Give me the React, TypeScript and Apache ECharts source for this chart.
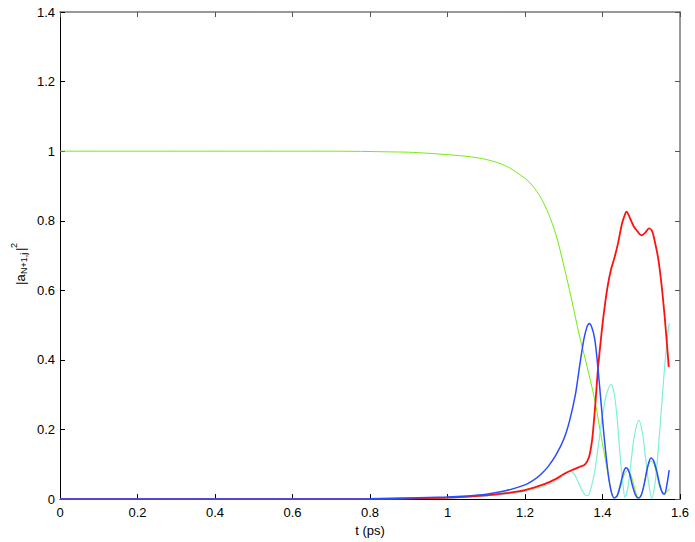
import React, { useEffect, useRef } from "react";
import * as echarts from "echarts";

const xTicks = [0, 0.2, 0.4, 0.6, 0.8, 1, 1.2, 1.4, 1.6];
const yTicks = [0, 0.2, 0.4, 0.6, 0.8, 1, 1.2, 1.4];

const greenT = [0, 0.2, 0.4, 0.6, 0.7, 0.8, 0.85, 0.9, 0.95, 1.0, 1.05, 1.1, 1.15, 1.2, 1.22, 1.24, 1.26, 1.28, 1.3, 1.32, 1.34, 1.36, 1.38, 1.395, 1.411, 1.42, 1.428, 1.436, 1.445, 1.455, 1.465, 1.473, 1.482, 1.49, 1.496, 1.505, 1.515, 1.525, 1.533, 1.542, 1.55, 1.558, 1.565, 1.573];
const greenV = [1, 1, 1, 1, 1, 0.999, 0.998, 0.997, 0.994, 0.99, 0.985, 0.976, 0.958, 0.922, 0.9, 0.868, 0.822, 0.76, 0.672, 0.575, 0.472, 0.382, 0.285, 0.19, 0.091, 0.035, 0.005, 0.006, 0.03, 0.068, 0.083, 0.07, 0.035, 0.006, 0.004, 0.03, 0.085, 0.11, 0.1, 0.06, 0.028, 0.018, 0.02, 0.03];

const cyanT = [0, 0.4, 0.8, 0.9, 1.0, 1.1, 1.15, 1.2, 1.25, 1.28, 1.3, 1.315, 1.325, 1.335, 1.345, 1.355, 1.362, 1.37, 1.38, 1.39, 1.4, 1.41, 1.422, 1.43, 1.438, 1.445, 1.452, 1.458, 1.465, 1.473, 1.482, 1.494, 1.503, 1.512, 1.52, 1.527, 1.535, 1.543, 1.552, 1.562, 1.572];
const cyanV = [0, 0, 0.0005, 0.0015, 0.003, 0.009, 0.014, 0.022, 0.038, 0.052, 0.068, 0.08, 0.075, 0.055, 0.03, 0.012, 0.01, 0.03, 0.08, 0.16, 0.24, 0.3, 0.33, 0.305, 0.23, 0.13, 0.05, 0.005, 0.03, 0.1, 0.18, 0.226, 0.19, 0.11, 0.04, 0.002, 0.04, 0.13, 0.26, 0.4, 0.506];

const redT = [0, 0.4, 0.8, 0.9, 1.0, 1.1, 1.15, 1.2, 1.25, 1.28, 1.3, 1.32, 1.34, 1.355, 1.365, 1.372, 1.376, 1.382, 1.388, 1.395, 1.403, 1.413, 1.422, 1.43, 1.44, 1.45, 1.457, 1.462, 1.47, 1.48, 1.49, 1.5, 1.51, 1.52, 1.528, 1.536, 1.544, 1.552, 1.56, 1.566, 1.571];
const redV = [0, 0, 0.0006, 0.002, 0.004, 0.011, 0.017, 0.026, 0.043, 0.058, 0.072, 0.083, 0.092, 0.1, 0.12, 0.16, 0.2, 0.28, 0.37, 0.45, 0.53, 0.61, 0.66, 0.69, 0.735, 0.79, 0.815, 0.826, 0.81, 0.785, 0.77, 0.758, 0.765, 0.778, 0.77, 0.735, 0.69, 0.62, 0.53, 0.45, 0.38];

const blueT = [0, 0.4, 0.6, 0.8, 0.9, 1.0, 1.05, 1.1, 1.15, 1.2, 1.22, 1.24, 1.26, 1.28, 1.3, 1.315, 1.33, 1.342, 1.352, 1.36, 1.366, 1.372, 1.38, 1.388, 1.396, 1.405, 1.415, 1.423, 1.43, 1.438, 1.447, 1.455, 1.461, 1.468, 1.477, 1.485, 1.492, 1.5, 1.508, 1.517, 1.525, 1.532, 1.54, 1.548, 1.555, 1.56, 1.566, 1.572];
const blueV = [0, 0, 0.0003, 0.001, 0.003, 0.006, 0.009, 0.014, 0.024, 0.041, 0.053, 0.07, 0.094, 0.127, 0.172, 0.225, 0.3, 0.39, 0.46, 0.495, 0.505, 0.495, 0.46, 0.38, 0.28, 0.17, 0.07, 0.02, 0.003, 0.01, 0.045, 0.08, 0.09, 0.08, 0.04, 0.012, 0.003, 0.012, 0.045, 0.095, 0.118, 0.11, 0.08, 0.04, 0.017, 0.014, 0.04, 0.083];

const pairs = (t: number[], v: number[]) => t.map((x, i) => [x, v[i]]);

const FONT = "'Liberation Sans', Arial, Helvetica, sans-serif";

export default function App() {
  const ref = useRef<HTMLDivElement>(null);
  useEffect(() => {
    if (!ref.current) return;
    const chart = echarts.init(ref.current, null, { renderer: "svg" });
    const mkSeries = (name: string, t: number[], v: number[], color: string, width: number) => ({
      name,
      type: "line",
      data: pairs(t, v),
      showSymbol: false,
      smooth: 0.3,
      lineStyle: { color, width },
      itemStyle: { color },
      clip: true,
    });
    const axisCommon = {
      type: "value",
      splitLine: { show: false },
    };
    chart.setOption({
      animation: false,
      backgroundColor: "#fff",
      textStyle: { fontFamily: FONT },
      grid: { left: 60, right: 15, top: 12, bottom: 40, containLabel: false },
      xAxis: [
        {
          ...axisCommon,
          position: "bottom",
          min: 0,
          max: 1.6,
          interval: 0.2,
          name: "t (ps)",
          nameLocation: "middle",
          nameGap: 23,
          nameTextStyle: { color: "#000", fontSize: 13, fontFamily: FONT },
          axisLine: { show: true, onZero: false, lineStyle: { color: "#000", width: 1 } },
          axisTick: { show: true, inside: true, length: 5, lineStyle: { color: "#000" } },
          axisLabel: {
            color: "#000",
            fontSize: 13,
            fontFamily: FONT,
            margin: 7,
            formatter: (v: number) => {
              const m = xTicks.find((x) => Math.abs(x - v) < 1e-6);
              return m === undefined ? "" : String(m);
            },
          },
        },
        {
          ...axisCommon,
          position: "top",
          min: 0,
          max: 1.6,
          interval: 0.2,
          axisLine: { show: true, onZero: false, lineStyle: { color: "#777", width: 1.5 } },
          axisTick: { show: true, inside: true, length: 5, lineStyle: { color: "#555" } },
          axisLabel: { show: false },
        },
      ],
      yAxis: [
        {
          ...axisCommon,
          position: "left",
          min: 0,
          max: 1.4,
          interval: 0.2,
          axisLine: { show: true, onZero: false, lineStyle: { color: "#000", width: 1 } },
          axisTick: { show: true, inside: true, length: 5, lineStyle: { color: "#000" } },
          axisLabel: {
            color: "#000",
            fontSize: 13,
            fontFamily: FONT,
            margin: 5,
            formatter: (v: number) => {
              const m = yTicks.find((x) => Math.abs(x - v) < 1e-6);
              return m === undefined ? "" : String(m);
            },
          },
        },
        {
          ...axisCommon,
          position: "right",
          min: 0,
          max: 1.4,
          interval: 0.2,
          axisLine: { show: true, onZero: false, lineStyle: { color: "#777", width: 1.5 } },
          axisTick: { show: true, inside: true, length: 5, lineStyle: { color: "#555" } },
          axisLabel: { show: false },
        },
      ],
      series: [
        mkSeries("green", greenT, greenV, "#72ec10", 1),
        mkSeries("cyan", cyanT, cyanV, "#7ff0d8", 1.2),
        mkSeries("red", redT, redV, "#ff1010", 1.8),
        mkSeries("blue", blueT, blueV, "#2a4cff", 1.5),
      ],
      graphic: [
        {
          type: "group",
          x: 20,
          y: 263,
          rotation: Math.PI / 2,
          children: [
            { type: "text", x: -22, y: 0, style: { text: "|a", fontSize: 13, fontFamily: FONT, fill: "#000", textVerticalAlign: "middle", textAlign: "left" } },
            { type: "text", x: -11, y: 4, style: { text: "N+1,j", fontSize: 9, fontFamily: FONT, fill: "#000", textVerticalAlign: "middle", textAlign: "left" } },
            { type: "text", x: 12, y: 0, style: { text: "|", fontSize: 13, fontFamily: FONT, fill: "#000", textVerticalAlign: "middle", textAlign: "left" } },
            { type: "text", x: 15, y: -6, style: { text: "2", fontSize: 9, fontFamily: FONT, fill: "#000", textVerticalAlign: "middle", textAlign: "left" } },
          ],
        },
      ],
    });
    return () => chart.dispose();
  }, []);
  return <div ref={ref} style={{ width: 695, height: 542, position: "absolute", left: 0, top: 0 }} />;
}
